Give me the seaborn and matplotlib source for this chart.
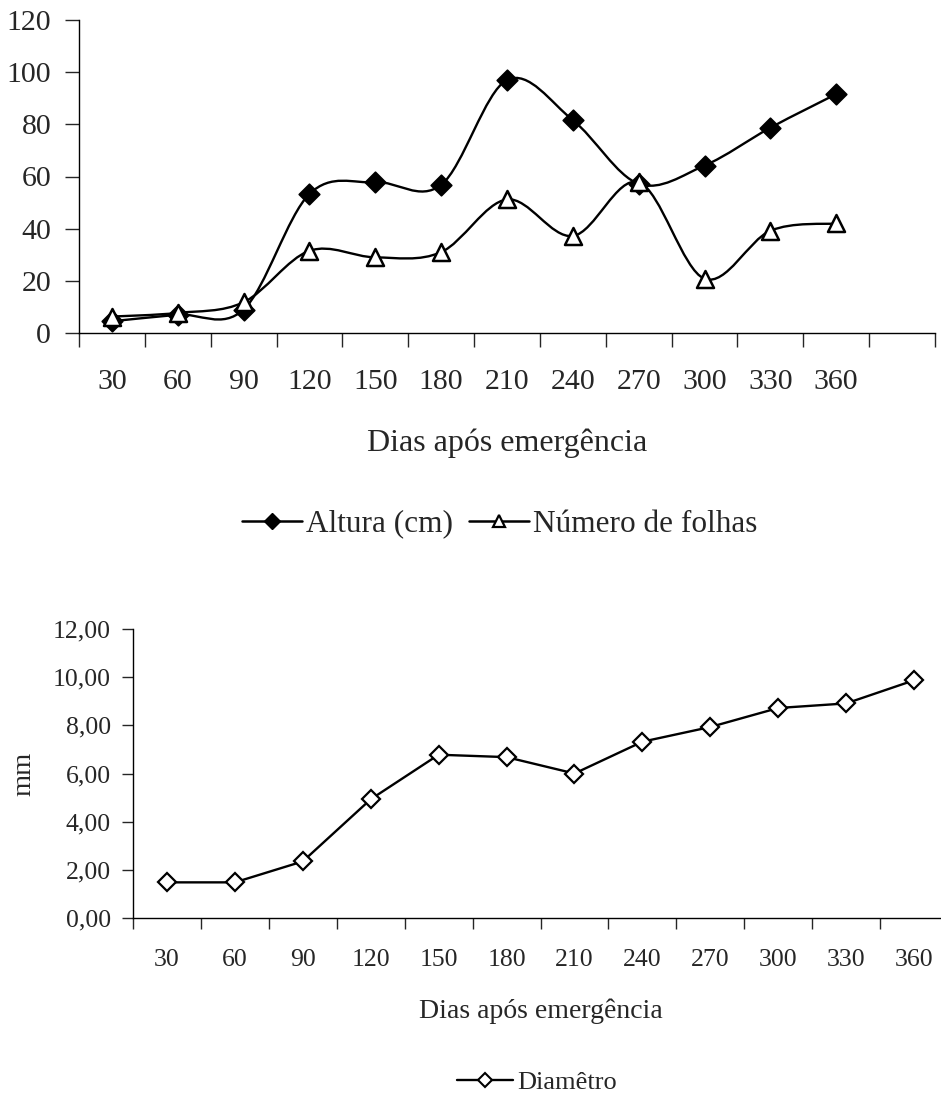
import numpy as np
import pandas as pd
import matplotlib
matplotlib.use("Agg")
import matplotlib.pyplot as plt
import seaborn as sns
from matplotlib.path import Path
from matplotlib.patches import PathPatch
from matplotlib.lines import Line2D
from matplotlib.ticker import FixedLocator, NullFormatter

# ---------------- data ----------------
dias = ["30", "60", "90", "120", "150", "180", "210", "240", "270", "300", "330", "360"]
altura = [4.5, 7.0, 9.0, 53.3, 57.8, 56.8, 97.0, 81.6, 57.2, 64.2, 78.7, 91.6]
folhas = [6.3, 7.7, 11.8, 31.5, 29.0, 31.0, 51.2, 37.2, 57.8, 20.8, 39.2, 42.0]
diametro = [1.48, 1.48, 2.35, 4.93, 6.78, 6.68, 6.00, 7.32, 7.93, 8.72, 8.91, 9.87]

top_yticks = [0, 20, 40, 60, 80, 100, 120]
bot_yticks = [0, 2, 4, 6, 8, 10, 12]
bot_yticklabels = ["0,00", "2,00", "4,00", "6,00", "8,00", "10,00", "12,00"]

sns.set_theme(style="white")
plt.rcParams["font.family"] = ["Liberation Serif", "DejaVu Serif"]
plt.rcParams["axes.edgecolor"] = "black"
plt.rcParams["axes.linewidth"] = 1.0

fig = plt.figure(figsize=(9.41, 10.95), dpi=100)


def smooth_path(xs, ys):
    """Excel-like smoothed line: cubic Bezier through the data points."""
    pts = np.column_stack([xs, ys]).astype(float)
    n = len(pts)
    verts = [pts[0]]
    codes = [Path.MOVETO]
    for i in range(n - 1):
        p0 = pts[i - 1] if i > 0 else pts[i]
        p1 = pts[i]
        p2 = pts[i + 1]
        p3 = pts[i + 2] if i + 2 < n else pts[i + 1]
        c1 = p1 + (p2 - p0) / 6.0
        c2 = p2 - (p3 - p1) / 6.0
        verts += [c1, c2, p2]
        codes += [Path.CURVE4] * 3
    return Path(verts, codes)


# ---------------- top panel ----------------
ax1 = fig.add_axes([79 / 941, 1 - 333 / 1095, (935 - 79) / 941, (333 - 20) / 1095])
df_top = pd.DataFrame({"x": np.arange(len(dias)), "dias": dias, "altura": altura, "folhas": folhas})

for col in ["altura", "folhas"]:
    ax1.add_patch(PathPatch(smooth_path(df_top["x"], df_top[col]), fill=False,
                            edgecolor="black", lw=1.7, zorder=2))

sns.scatterplot(data=df_top, x="x", y="altura", marker="D", s=110, color="black",
                edgecolor="black", linewidth=1.2, ax=ax1, zorder=3)
sns.scatterplot(data=df_top, x="x", y="folhas", marker="^", s=150, color="white",
                edgecolor="black", linewidth=1.8, ax=ax1, zorder=4)

ax1.set_xlim(-0.5, 12.5)
ax1.set_ylim(0, 120)
ax1.set_yticks(top_yticks)
ax1.set_yticklabels([str(v) for v in top_yticks])
ax1.set_xticks(np.arange(len(dias)))
ax1.set_xticklabels(dias)
ax1.xaxis.set_minor_locator(FixedLocator(np.arange(-0.5, 13.0, 1.0)))
ax1.xaxis.set_minor_formatter(NullFormatter())
ax1.tick_params(axis="x", which="major", length=0, pad=26, labelsize=21.5)
ax1.tick_params(axis="x", which="minor", length=10, width=1, direction="out", bottom=True)
ax1.tick_params(axis="y", which="major", length=10, width=1, direction="out", left=True,
                pad=10, labelsize=21.5)
for s in ["top", "right"]:
    ax1.spines[s].set_visible(False)
ax1.set_xlabel("Dias após emergência", fontsize=23, labelpad=24)
ax1.set_ylabel("")

h1 = [Line2D([], [], color="black", lw=1.8, marker="D", markersize=8,
             markerfacecolor="black", markeredgecolor="black"),
      Line2D([], [], color="black", lw=1.8, marker="^", markersize=8.5,
             markerfacecolor="white", markeredgecolor="black", markeredgewidth=1.6)]
fig.legend(h1, ["Altura (cm)", "Número de folhas"], loc="center",
           bbox_to_anchor=(500 / 941, 1 - 524 / 1095), ncol=2, frameon=False,
           fontsize=22.5, handlelength=1.9, handletextpad=0.15, columnspacing=0.5)

# ---------------- bottom panel ----------------
ax2 = fig.add_axes([133 / 941, 1 - 918 / 1095, (948 - 133) / 941, (918 - 629) / 1095])
df_bot = pd.DataFrame({"dias": dias, "diametro": diametro})
sns.lineplot(data=df_bot, x="dias", y="diametro", sort=False, color="black", lw=1.7,
             marker="D", markersize=9, markerfacecolor="white", markeredgecolor="black",
             markeredgewidth=1.6, ax=ax2)
ax2.set_xlim(-0.5, 11.5)
ax2.set_ylim(0, 12)
ax2.set_yticks(bot_yticks)
ax2.set_yticklabels(bot_yticklabels)
ax2.xaxis.set_minor_locator(FixedLocator(np.arange(-0.5, 12.0, 1.0)))
ax2.xaxis.set_minor_formatter(NullFormatter())
ax2.tick_params(axis="x", which="major", length=0, pad=22, labelsize=18.5)
ax2.tick_params(axis="x", which="minor", length=8, width=1, direction="out", bottom=True)
ax2.tick_params(axis="y", which="major", length=8, width=1, direction="out", left=True,
                pad=8, labelsize=18.5)
for s in ["top", "right"]:
    ax2.spines[s].set_visible(False)
ax2.set_xlabel("Dias após emergência", fontsize=20, labelpad=20)
ax2.set_ylabel("mm", fontsize=20.5, labelpad=12)

h2 = [Line2D([], [], color="black", lw=1.7, marker="D", markersize=7.5,
             markerfacecolor="white", markeredgecolor="black", markeredgewidth=1.5)]
fig.legend(h2, ["Diamêtro"], loc="center", bbox_to_anchor=(537 / 941, 1 - 1082 / 1095),
           frameon=False, fontsize=19, handlelength=2.1, handletextpad=0.15)

fig.savefig("out.png", dpi=100)
